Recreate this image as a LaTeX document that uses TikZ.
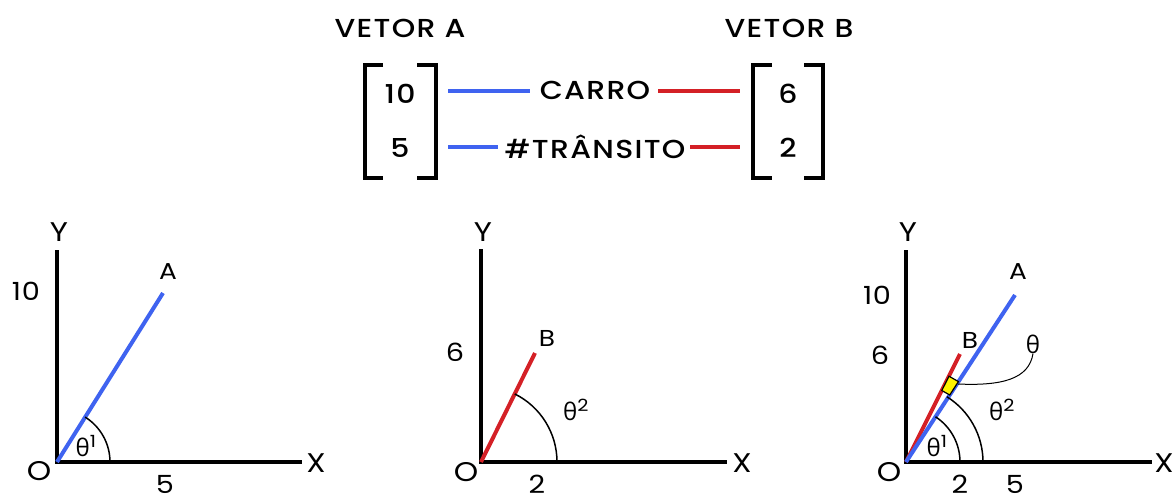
\documentclass[tikz,border=0pt]{standalone}
\usepackage{fontspec}
\setmainfont{Poppins}[FakeStretch=1.15,LetterSpace=3]
\newfontfamily\medfont{Poppins Medium}[FakeStretch=1.15,LetterSpace=5]
\newfontfamily\thfont{Open Sans}
\definecolor{vblue}{HTML}{3F63F0}
\definecolor{vred}{HTML}{D42026}
\definecolor{vyellow}{HTML}{FFF200}
\tikzset{
  toptext/.style={inner sep=0pt,font=\medfont\fontsize{26}{26}\selectfont},
  axlabel/.style={inner sep=0pt,font=\fontsize{27}{27}\selectfont},
  numlabel/.style={inner sep=0pt,font=\fontsize{25}{25}\selectfont},
  ptlabel/.style={inner sep=0pt,font=\fontsize{23}{23}\selectfont},
  thlabel/.style={inner sep=0pt,font=\fontsize{24}{24}\selectfont},
  axis/.style={line width=4pt,black,line join=miter},
  bracket/.style={line width=4pt,black,line join=miter},
  bluevec/.style={line width=4pt,vblue},
  redvec/.style={line width=4pt,vred},
  bluecon/.style={line width=4pt,vblue},
  redcon/.style={line width=4pt,vred},
  anglearc/.style={line width=1.5pt,black},
  pointer/.style={line width=1pt,black},
}
\newcommand{\thsup}[1]{{\thfont θ}\textsuperscript{#1}}
\begin{document}
\begin{tikzpicture}[x=1pt,y=-1pt]
\useasboundingbox (0,0) rectangle (1176,496);
% ---------------- top part ----------------
\node[toptext] (va) at (400,28) {VETOR A};
\node[toptext] (vb) at (789,28) {VETOR B};
\node[toptext] (a1) at (400,94) {10};
\node[toptext] (a2) at (400,148) {5};
\node[toptext] (b1) at (788,94) {6};
\node[toptext] (b2) at (788,148) {2};
\node[toptext] (carro) at (595,90) {CARRO};
\node[toptext] (trans) at (595,147) {\#TRÂNSITO};
% brackets
\draw[bracket] (383,65) -- (365,65) -- (365,178) -- (383,178);
\draw[bracket] (417,65) -- (436,65) -- (436,178) -- (417,178);
\draw[bracket] (772,65) -- (753,65) -- (753,178) -- (772,178);
\draw[bracket] (804,65) -- (823,65) -- (823,178) -- (804,178);
\coordinate (aR1) at (448,91);
\coordinate (aR2) at (448,147);
\coordinate (bL1) at (740,91);
\coordinate (bL2) at (740,147);
\draw[bluecon] (aR1) -- (530,91) coordinate (cL);
\draw[redcon] (658,91) coordinate (cR) -- (bL1);
\draw[bluecon] (aR2) -- (498,147) coordinate (tL);
\draw[redcon] (690,147) coordinate (tR) -- (bL2);
% ---------------- panel 1 ----------------
\coordinate (O1) at (57,462);
\coordinate (Y1) at (57,250);
\coordinate (X1) at (302,462);
\coordinate (A1) at (163,293);
\draw[axis] (Y1) -- (O1) -- (X1);
\draw[bluevec] (O1) -- (A1);
\draw[anglearc] (O1) ++(53,0) arc[start angle=0,end angle=-57.9,radius=53];
\node[axlabel] (y1l) at (59,232) {Y};
\node[axlabel] (x1l) at (316,463) {X};
\node[axlabel] (o1l) at (39,471) {O};
\node[numlabel] (n10a) at (26,291) {10};
\node[numlabel] (n5a) at (165,484) {5};
\node[ptlabel] (A1l) at (168,272) {A};
\node[thlabel] (t1a) at (86,446) {\thsup{1}};
% ---------------- panel 2 ----------------
\coordinate (O2) at (481,462);
\coordinate (Y2) at (481,249);
\coordinate (X2) at (727,462);
\coordinate (B2) at (535,353);
\draw[axis] (Y2) -- (O2) -- (X2);
\draw[redvec] (O2) -- (B2);
\draw[anglearc] (O2) ++(76,0) arc[start angle=0,end angle=-63.6,radius=76];
\node[axlabel] (y2l) at (483,232) {Y};
\node[axlabel] (x2l) at (742,463) {X};
\node[axlabel] (o2l) at (466,472) {O};
\node[numlabel] (n6b) at (455,352) {6};
\node[numlabel] (n2b) at (537,484) {2};
\node[ptlabel] (B2l) at (547,338) {B};
\node[thlabel] (t2b) at (576,410) {\thsup{2}};
% ---------------- panel 3 ----------------
\coordinate (O3) at (906,462);
\coordinate (Y3) at (906,250);
\coordinate (X3) at (1152,462);
\coordinate (A3) at (1015,295);
\coordinate (B3) at (960,354);
\draw[axis] (Y3) -- (O3) -- (X3);
\draw[redvec] (O3) -- (B3);
\draw[bluevec] (O3) -- (A3);
\draw[anglearc] (O3) ++(54,0) arc[start angle=0,end angle=-56.9,radius=54];
\draw[anglearc] (O3) ++(77,0) arc[start angle=0,end angle=-58,radius=77];
\draw[fill=vyellow,line width=1.2pt] (949.7,395.0) -- (958.4,381.6) -- (949.0,376.2) -- (941.8,390.5) -- cycle;
\coordinate (box) at (958,384);
\node[axlabel] (y3l) at (908,232) {Y};
\node[axlabel] (x3l) at (1164,463) {X};
\node[axlabel] (o3l) at (889,472) {O};
\node[numlabel] (n10c) at (877,295) {10};
\node[numlabel] (n6c) at (880,355) {6};
\node[numlabel] (n2c) at (960,484) {2};
\node[numlabel] (n5c) at (1015,484) {5};
\node[ptlabel] (A3l) at (1018,272) {A};
\node[ptlabel] (B3l) at (970,340) {B};
\node[thlabel] (t3) at (1033,344) {\thfont θ};
\node[thlabel] (t3b) at (1002,410) {\thsup{2}};
\node[thlabel] (t3a) at (937,446) {\thsup{1}};
\draw[pointer] (box) .. controls (1002,386) and (1029,379) .. (t3.south);
\end{tikzpicture}
\end{document}
